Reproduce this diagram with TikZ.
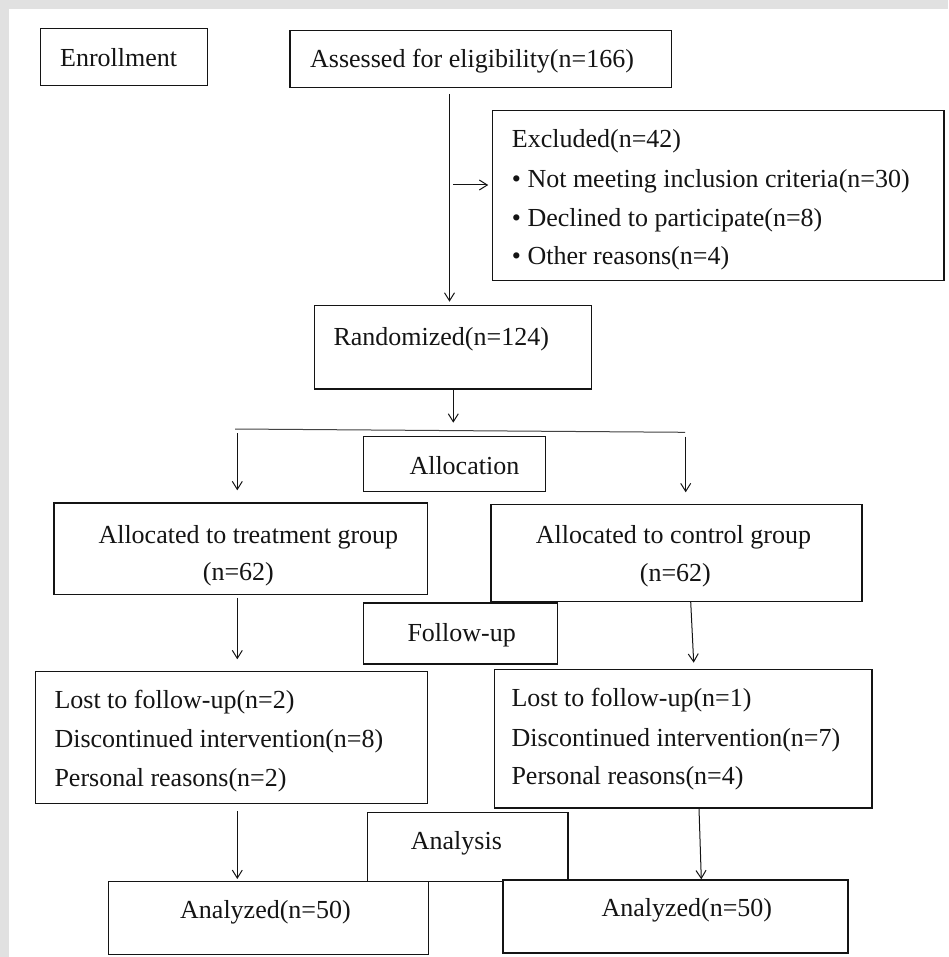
\documentclass[tikz,border=0pt]{standalone}
\usepackage{fontspec}
\setmainfont{Liberation Serif}
\usetikzlibrary{arrows.meta}
\definecolor{bordergray}{RGB}{225,225,225}
\definecolor{ink}{RGB}{20,20,20}
\begin{document}
\begin{tikzpicture}[x=1pt,y=-1pt,
  box/.style={draw=ink, line width=1.2pt, fill=white, rectangle, inner sep=0pt, anchor=north west},
  txt/.style={anchor=base west, inner sep=0pt, text=ink, font=\fontsize{26}{39}\selectfont},
  conn/.style={draw=ink, line width=1pt},
  arr/.style={conn, -{Straight Barb[length=8pt,width=10pt]}}]
% background and frame
\useasboundingbox (0,0) rectangle (948,957);
\fill[bordergray] (0,0) rectangle (948,957);
\fill[white] (8.5,9) rectangle (948,957);

% boxes
\node[box, minimum width=167pt, minimum height=57pt] (enroll) at (40,28) {};
\node[box, minimum width=381.7pt, minimum height=56.7pt] (assess) at (289.3,30) {};
\node[box, minimum width=451.6pt, minimum height=170pt] (excl) at (491.7,110) {};
\node[box, minimum width=276.7pt, minimum height=83.3pt] (rand) at (314,305) {};
\node[box, minimum width=182.3pt, minimum height=54.7pt] (alloc) at (362.7,436) {};
\node[box, minimum width=373.4pt, minimum height=91.7pt] (treat) at (53.3,502.3) {};
\node[box, minimum width=371pt, minimum height=96.7pt] (ctrl) at (490.3,504) {};
\node[box, minimum width=194.3pt, minimum height=61pt] (follow) at (362.7,602.3) {};
\node[box, minimum width=391.5pt, minimum height=132pt] (lostL) at (35,670.7) {};
\node[box, minimum width=377.3pt, minimum height=138.3pt] (lostR) at (494,669) {};
\node[box, minimum width=200.6pt, minimum height=69.3pt] (analysis) at (366.7,811.7) {};
\node[box, minimum width=320pt, minimum height=73.3pt] (anaL) at (107.7,880.7) {};
\node[box, minimum width=345pt, minimum height=73pt] (anaR) at (502.3,879.3) {};

% texts
\node[txt] (tEnroll) at (60,66.7) {Enrollment};
\node[txt] (tAssess) at (310,68) {Assessed for eligibility(n=166)};
\node[txt] (tExcl1) at (511.7,148) {Excluded(n=42)};
\node[txt] (tExcl2) at (511.7,187.5) {• Not meeting inclusion criteria(n=30)};
\node[txt] (tExcl3) at (511.7,226.5) {• Declined to participate(n=8)};
\node[txt] (tExcl4) at (511.7,265) {• Other reasons(n=4)};
\node[txt] (tRand) at (333.3,345.7) {Randomized(n=124)};
\node[txt] (tAlloc) at (409.3,474.3) {Allocation};
\node[txt] (tTreat1) at (98.3,543.3) {Allocated to treatment group};
\node[txt] (tTreat2) at (202.7,580) {(n=62)};
\node[txt] (tCtrl1) at (535.7,543.3) {Allocated to control group};
\node[txt] (tCtrl2) at (639.7,581.7) {(n=62)};
\node[txt] (tFollow) at (407.3,641) {Follow-up};
\node[txt] (tLostL1) at (54.3,708.3) {Lost to follow-up(n=2)};
\node[txt] (tLostL2) at (54.3,747.3) {Discontinued intervention(n=8)};
\node[txt] (tLostL3) at (54.3,786) {Personal reasons(n=2)};
\node[txt] (tLostR1) at (511.3,706.7) {Lost to follow-up(n=1)};
\node[txt] (tLostR2) at (511.3,746) {Discontinued intervention(n=7)};
\node[txt] (tLostR3) at (511.3,784.3) {Personal reasons(n=4)};
\node[txt] (tAnalysis) at (410.7,849.3) {Analysis};
\node[txt] (tAnaL) at (180,918.3) {Analyzed(n=50)};
\node[txt] (tAnaR) at (601.3,916.7) {Analyzed(n=50)};

% connector reference points
\coordinate (xMain) at (449.5,0);
\coordinate (exStart) at (453,185);
\coordinate (randTip) at (453.3,422.7);
\coordinate (splitL) at (235,429);
\coordinate (splitR) at (685,432.3);
\coordinate (leftTop) at (237.3,433);
\coordinate (rightTop) at (685.7,436.7);
\coordinate (xLeft) at (237.3,0);
\coordinate (xCtrlOut) at (690.7,0);
\coordinate (ctrlTip) at (693.7,662.7);
\coordinate (xLostR) at (699,0);
\coordinate (xAnaR) at (701.3,0);

% connectors
\draw[arr, shorten <=6pt, shorten >=3.3pt] (assess.south -| xMain) -- (rand.north -| xMain);
\draw[arr, shorten >=3.5pt] (exStart) -- (excl.west |- exStart);
\draw[arr] (rand.south -| randTip) -- (randTip);
\draw[conn, draw=ink!80] (splitL) -- (splitR);
\draw[arr, shorten >=12pt] (leftTop) -- (treat.north -| leftTop);
\draw[arr, shorten >=11.7pt] (rightTop) -- (ctrl.north -| rightTop);
\draw[arr, shorten <=2.7pt, shorten >=11.4pt] (treat.south -| xLeft) -- (lostL.north -| xLeft);
\draw[arr] (ctrl.south -| xCtrlOut) -- (ctrlTip);
\draw[arr, shorten <=7.3pt, shorten >=1.7pt] (lostL.south -| xLeft) -- (anaL.north -| xLeft);
\draw[arr] (lostR.south -| xLostR) -- (anaR.north -| xAnaR);
\end{tikzpicture}
\end{document}
